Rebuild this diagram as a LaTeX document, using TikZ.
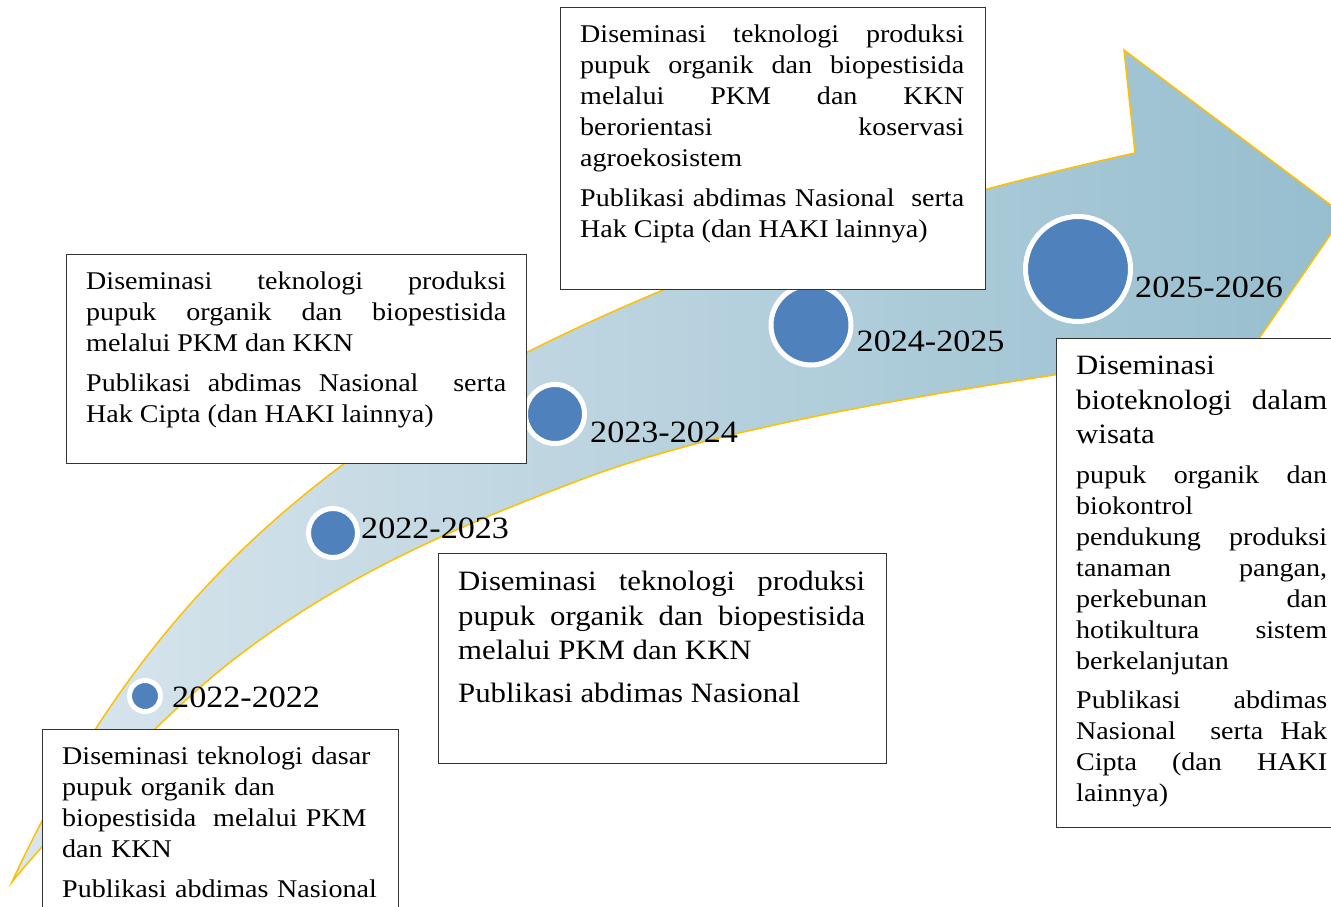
\documentclass[tikz,border=0pt]{standalone}
\usepackage{fontspec}
\setmainfont{Liberation Serif}[FakeStretch=1.1]
\usepackage{xcolor}
\usetikzlibrary{calc,positioning}
\definecolor{bandleft}{HTML}{DAE6EE}
\definecolor{bandright}{HTML}{96BECE}
\definecolor{bandedge}{HTML}{FFC000}
\definecolor{dotblue}{HTML}{4F81BD}
\newcommand{\boxfont}{\fontsize{25.5}{31}\selectfont}
\newcommand{\boxfontbig}{\fontsize{28}{34.5}\selectfont}
\newcommand{\paragap}{\par\vspace{8.5pt}}
\tikzset{
  band/.style={draw=bandedge,line width=1.5pt,line join=miter,left color=bandleft,right color=bandright},
  dot/.style={circle,fill=dotblue,draw=white,line width=5pt,inner sep=0pt},
  yearlabel/.style={font=\fontsize{31}{36}\selectfont,inner sep=0pt,anchor=base west},
  frame/.style={draw=black!80,line width=1.2pt,fill=white,anchor=north west,inner sep=0pt},
  boxtext/.style={anchor=north west,inner xsep=20pt,inner ysep=18pt,align=justify,font=\boxfont}
}

\begin{document}
\begin{tikzpicture}[x=1pt,y=-1pt]
  \useasboundingbox (0,0) rectangle (1331,907);
  % curved timeline arrow
  \draw[band] (12,882) .. controls (112,665) and (235,545) .. (345,463)
    .. controls (445,388) and (563,332) .. (663,290)
    .. controls (773,244) and (1015,179) .. (1135,153)
    -- (1124,50) -- (1344,215) -- (1260,337) -- (1160,483) -- (1140,362)
    .. controls (960,389) and (730,423) .. (580,480)
    .. controls (465,524) and (348,571) .. (233,660)
    .. controls (158,718) and (43,843) .. (12,882) -- cycle;
  % milestones
  \node[dot,minimum size=31pt] (c2022) at (145,696) {};
  \node[dot,minimum size=49pt] (c2023) at (333,533) {};
  \node[dot,minimum size=59pt] (c2024) at (555,414) {};
  \node[dot,minimum size=80pt] (c2025) at (811,325) {};
  \node[dot,minimum size=105pt] (c2026) at (1078,269) {};
  \node[yearlabel] (y2022) at ($(c2022.east)+(9,11)$) {2022-2022};
  \node[yearlabel] (y2023) at ($(c2023.east)+(1,5)$) {2022-2023};
  \node[yearlabel] (y2024) at ($(c2024.east)+(3,28)$) {2023-2024};
  \node[yearlabel] (y2025) at ($(c2025.east)+(3,26)$) {2024-2025};
  \node[yearlabel] (y2026) at ($(c2026.east)+(2,28)$) {2025-2026};
  % text boxes
  \node[frame,minimum width=356pt,minimum height=220pt] (f2022) at (42,729) {};
  \node[boxtext,align=left,text width=316pt] (t2022) at (f2022.north west)
    {Diseminasi teknologi dasar\\ pupuk organik dan\\ biopestisida\ \ melalui PKM\\ dan KKN\paragap
     Publikasi abdimas Nasional};
  \node[frame,minimum width=448pt,minimum height=210pt] (f2023) at (438,553) {};
  \node[boxtext,font=\boxfontbig,text width=407pt] (t2023) at (f2023.north west)
    {Diseminasi teknologi produksi\linebreak pupuk organik dan biopestisida\linebreak melalui PKM dan KKN\paragap
     Publikasi abdimas Nasional};
  \node[frame,minimum width=460pt,minimum height=209pt] (f2024) at (66,254) {};
  \node[boxtext,text width=420pt] (t2024) at (f2024.north west)
    {Diseminasi teknologi produksi\linebreak pupuk organik dan biopestisida\linebreak melalui PKM dan KKN\paragap
     Publikasi abdimas Nasional\ \ serta\linebreak Hak Cipta (dan HAKI lainnya)};
  \node[frame,minimum width=425pt,minimum height=282pt] (f2025) at (560,7) {};
  \node[boxtext,text width=384pt] (t2025) at (f2025.north west)
    {Diseminasi teknologi produksi\linebreak pupuk organik dan biopestisida\linebreak melalui PKM dan KKN\linebreak berorientasi koservasi\linebreak agroekosistem\paragap
     Publikasi abdimas Nasional\ \ serta\linebreak Hak Cipta (dan HAKI lainnya)};
  \node[frame,minimum width=300pt,minimum height=489pt] (f2026) at (1056,338) {};
  \node[boxtext,text width=251pt] (t2026) at (f2026.north west)
    {\boxfontbig Diseminasi\newline bioteknologi dalam\linebreak wisata\par\boxfont\vspace{8.5pt}
     pupuk organik dan\linebreak biokontrol\newline pendukung produksi\linebreak tanaman pangan,\linebreak perkebunan dan\linebreak hotikultura sistem\linebreak berkelanjutan\paragap
     Publikasi abdimas\linebreak Nasional\ \ serta Hak\linebreak Cipta (dan HAKI\linebreak lainnya)};
\end{tikzpicture}
\end{document}
